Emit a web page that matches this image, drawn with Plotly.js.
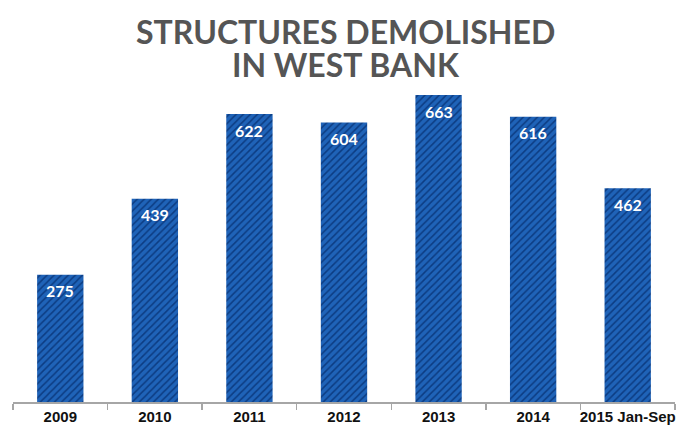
<!DOCTYPE html>
<html><head><meta charset="utf-8">
<script src="https://cdn.plot.ly/plotly-3.0.1.min.js"></script>
<style>html,body{margin:0;padding:0;background:#fff;}#chart{width:682px;height:428px;}</style>
</head><body><div id="chart"></div>
<script>
const categories = ["2009","2010","2011","2012","2013","2014","2015 Jan-Sep"];
const demolished = [275, 439, 622, 604, 663, 616, 462];
const titleLines = ["STRUCTURES DEMOLISHED", "IN WEST BANK"];

const trace = {
  type: "bar",
  x: categories,
  y: demolished,
  marker: {
    color: "#1f63b8",
    pattern: {shape: "/", fgcolor: "#0c3c82", bgcolor: "#1f63b8", fillmode: "replace", size: 5, solidity: 0.3},
    line: {width: 0}
  },
  width: 0.49,
  hoverinfo: "skip"
};

const titleFont = {family: "Lato, 'Open Sans', sans-serif", size: 32, color: "#555555", weight: "bold"};
const labelFont = {family: "Lato, 'Open Sans', sans-serif", size: 16, color: "#ffffff", weight: "bold"};

const valueLabels = categories.map((c, i) => ({
  x: i, y: demolished[i], xref: "x", yref: "y",
  text: String(demolished[i]), showarrow: false,
  xanchor: "center", yanchor: "middle", yshift: -16,
  font: labelFont
}));

const layout = {
  width: 682, height: 428,
  margin: {l: 13, r: 7, t: 90, b: 26},
  paper_bgcolor: "#ffffff", plot_bgcolor: "#ffffff",
  annotations: [
    {text: titleLines[0], xref: "paper", yref: "paper", x: 0.503, y: 1.190, xanchor: "center", yanchor: "middle", height: 28, borderpad: 0, valign: "middle", showarrow: false, font: titleFont},
    {text: titleLines[1], xref: "paper", yref: "paper", x: 0.503, y: 1.084, xanchor: "center", yanchor: "middle", height: 28, borderpad: 0, valign: "middle", showarrow: false, font: titleFont}
  ].concat(valueLabels),
  xaxis: {
    type: "category",
    categoryorder: "array", categoryarray: categories,
    range: [-0.5, categories.length - 0.5],
    showline: true, linecolor: "#a6a6a6", linewidth: 1.5,
    ticks: "outside", tickson: "boundaries", ticklen: 6, tickcolor: "#a6a6a6", tickwidth: 1.5,
    tickangle: 0, automargin: false, ticklabelstandoff: 0,
    tickfont: {family: "'Liberation Sans', Arial, sans-serif", size: 15, color: "#111111", weight: "bold"},
    showgrid: false
  },
  yaxis: {range: [0, 674], visible: false, showgrid: false, zeroline: false},
  showlegend: false
};

Plotly.newPlot("chart", [trace], layout, {displayModeBar: false, staticPlot: true});
</script></body></html>
